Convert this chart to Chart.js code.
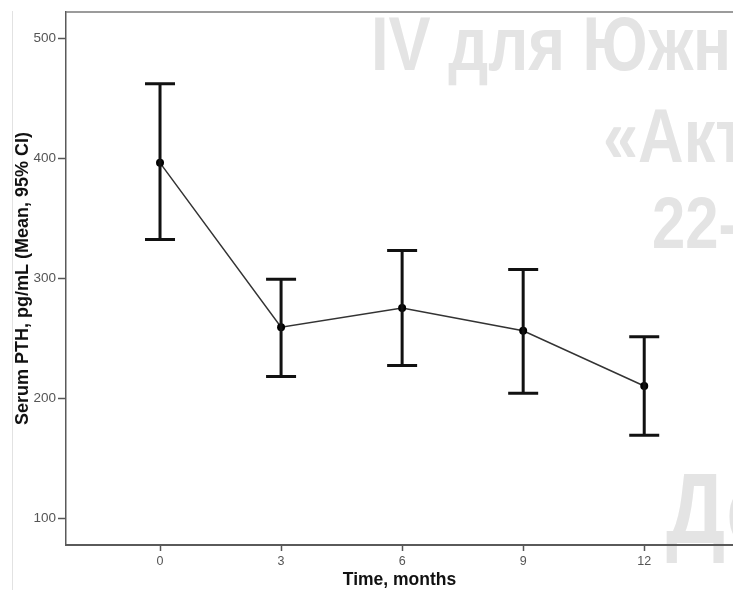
<!DOCTYPE html>
<html>
<head>
<meta charset="utf-8">
<script src="https://cdn.jsdelivr.net/npm/chart.js@4/dist/chart.umd.min.js"></script>
<style>
  html, body { margin: 0; padding: 0; background: #ffffff; overflow: hidden; }
  canvas { display: block; }
</style>
</head>
<body>
<canvas id="pth" width="733" height="590"></canvas>
<script>
// Serum PTH over follow-up: mean with 95% confidence interval
const months   = [0, 3, 6, 9, 12];
const pthMean  = [396, 259, 275, 256, 210];
const ciLower  = [332, 218, 227, 204, 169];
const ciUpper  = [462, 299, 323, 307, 251];
const yTicks   = [100, 200, 300, 400, 500];

// Background slide lettering (faint, behind the plot)
const backdropLines = [
  { text: 'IV для Южн', x: 371, y: 70,  size: 76 },
  { text: '«Акт',       x: 603, y: 162, size: 76 },
  { text: '22-',        x: 652, y: 248, size: 72 },
  { text: 'Де',         x: 666, y: 543, size: 100 }
];

const backdrop = {
  id: 'backdrop',
  beforeDraw(chart) {
    const ctx = chart.ctx;
    ctx.save();
    // thin page frame at the left
    ctx.strokeStyle = '#e2e2e2';
    ctx.lineWidth = 1;
    ctx.beginPath();
    ctx.moveTo(12.5, 11);
    ctx.lineTo(12.5, 590);
    ctx.stroke();
    ctx.fillStyle = '#e4e4e4';
    ctx.textBaseline = 'alphabetic';
    backdropLines.forEach(l => {
      ctx.save();
      ctx.translate(l.x, l.y);
      ctx.scale(0.83, 1);
      ctx.font = 'bold ' + l.size + 'px "Liberation Sans", Arial, sans-serif';
      ctx.fillText(l.text, 0, 0);
      ctx.restore();
    });
    ctx.restore();
  },
  afterDraw(chart) {
    // top frame of the plot area
    const { ctx, chartArea } = chart;
    ctx.save();
    ctx.strokeStyle = '#7a7a7a';
    ctx.lineWidth = 1.5;
    ctx.beginPath();
    ctx.moveTo(chartArea.left, chartArea.top);
    ctx.lineTo(chart.width, chartArea.top);
    ctx.stroke();
    ctx.restore();
  }
};

const errorBars = {
  id: 'errorBars',
  afterDatasetsDraw(chart) {
    const { ctx, scales: { x, y } } = chart;
    const cap = 15;
    ctx.save();
    ctx.strokeStyle = '#111111';
    ctx.lineWidth = 3;
    ctx.lineCap = 'butt';
    months.forEach((m, i) => {
      const px = x.getPixelForValue(m);
      const top = y.getPixelForValue(ciUpper[i]);
      const bot = y.getPixelForValue(ciLower[i]);
      ctx.beginPath();
      ctx.moveTo(px, top);
      ctx.lineTo(px, bot);
      ctx.moveTo(px - cap, top);
      ctx.lineTo(px + cap, top);
      ctx.moveTo(px - cap, bot);
      ctx.lineTo(px + cap, bot);
      ctx.stroke();
    });
    ctx.restore();
  }
};

new Chart(document.getElementById('pth'), {
  type: 'line',
  data: {
    datasets: [{
      data: months.map((m, i) => ({ x: m, y: pthMean[i] })),
      borderColor: '#333333',
      borderWidth: 1.5,
      pointRadius: 4,
      pointBackgroundColor: '#000000',
      pointBorderColor: '#000000',
      pointBorderWidth: 0,
      tension: 0
    }]
  },
  options: {
    responsive: false,
    animation: false,
    events: [],
    layout: { autoPadding: false, padding: { top: 12, left: 0, right: 0, bottom: 0 } },
    plugins: { legend: { display: false }, tooltip: { enabled: false } },
    scales: {
      x: {
        type: 'linear',
        min: -2.33,
        max: 14.2,
        afterFit: s => { s.height = 45; },
        afterBuildTicks: s => { s.ticks = months.map(v => ({ value: v })); },
        border: { color: '#5a5a5a', width: 2 },
        grid: { drawOnChartArea: false, drawTicks: true, tickLength: 6, tickColor: '#555555', tickWidth: 1.5 },
        ticks: {
          color: '#555555',
          padding: 3,
          maxRotation: 0,
          font: { family: '"Liberation Sans", Arial, sans-serif', size: 12.5 }
        },
        title: {
          display: true,
          text: 'Time, months',
          color: '#111111',
          padding: { top: 0, bottom: -1 },
          font: { family: '"Liberation Sans", Arial, sans-serif', size: 17.5, weight: 'bold' }
        }
      },
      y: {
        type: 'linear',
        min: 77.5,
        max: 521.7,
        afterFit: s => { s.width = 66; },
        afterBuildTicks: s => { s.ticks = yTicks.map(v => ({ value: v })); },
        border: { color: '#5a5a5a', width: 1.5 },
        grid: { drawOnChartArea: false, drawTicks: true, tickLength: 8, tickColor: '#555555', tickWidth: 1.5 },
        ticks: {
          color: '#555555',
          padding: 2,
          font: { family: '"Liberation Sans", Arial, sans-serif', size: 13.5 }
        },
        title: {
          display: true,
          text: 'Serum PTH, pg/mL (Mean, 95% CI)',
          color: '#111111',
          padding: { top: 12, bottom: 0 },
          font: { family: '"Liberation Sans", Arial, sans-serif', size: 18, weight: 'bold' }
        }
      }
    }
  },
  plugins: [backdrop, errorBars]
});
</script>
</body>
</html>
